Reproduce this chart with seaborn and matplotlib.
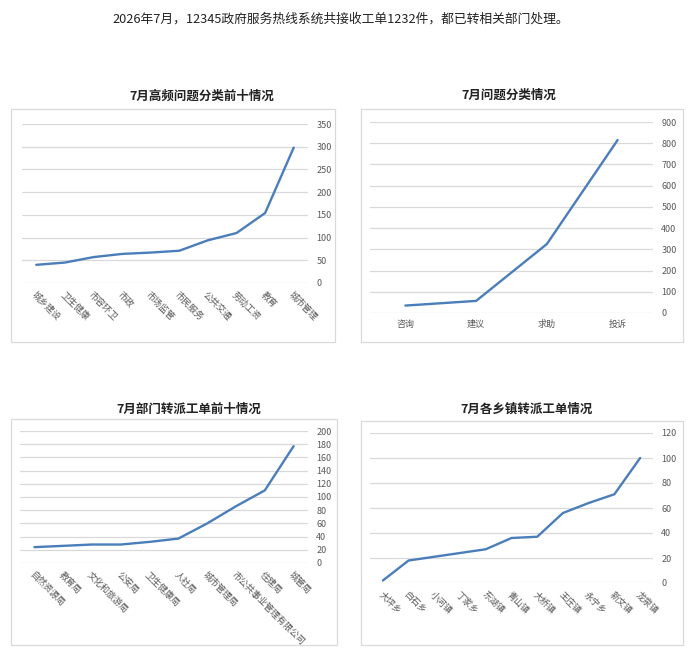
import matplotlib
matplotlib.use("Agg")
import matplotlib.pyplot as plt
from matplotlib.patches import Rectangle
import seaborn as sns
import pandas as pd

sns.set_theme(style="white")
plt.rcParams['font.family'] = ['Noto Sans CJK SC', 'DejaVu Sans']

# ---- data ----
suptitle = "2026年7月，12345政府服务热线系统共接收工单1232件，都已转相关部门处理。"

title_top10 = "7月高频问题分类前十情况"
top10_cats = ["城市管理", "教育", "劳动工资", "公共交通", "市民服务", "市场监管", "市政", "市容环卫", "卫生健康", "城乡建设"]
top10_vals = [298, 154, 110, 94, 71, 67, 64, 57, 45, 40]

title_type = "7月问题分类情况"
type_cats = ["投诉", "求助", "建议", "咨询"]
type_vals = [815, 325, 57, 35]

title_dept = "7月部门转派工单前十情况"
dept_cats = ["城管局", "住建局", "市公共事业管理有限公司", "城市管理局", "人社局", "卫生健康局", "公安局", "文化和旅游局", "教育局", "自然资源局"]
dept_vals = [177, 110, 86, 60, 37, 32, 28, 28, 26, 24]

title_town = "7月各乡镇转派工单情况"
town_cats = ["龙泉镇", "新文镇", "永宁乡", "王庄镇", "大桥镇", "青山镇", "东湖镇", "丁家乡", "小河镇", "白石乡", "大坪乡"]
town_vals = [100, 71, 64, 56, 37, 36, 27, 24, 21, 18, 2]

W, H = 689, 663
fig = plt.figure(figsize=(W / 100, H / 100), dpi=100)
fig.patch.set_facecolor("white")

LINE = "#4A7EBB"
GRID = "#d9d9d9"
TICK = "#595959"


def px_axes(x0, y_top, x1, y_bot):
    return fig.add_axes([x0 / W, 1 - y_bot / H, (x1 - x0) / W, (y_bot - y_top) / H])


def box(x0, y0, x1, y1):
    fig.add_artist(Rectangle((x0 / W, 1 - y1 / H), (x1 - x0) / W, (y1 - y0) / H,
                             transform=fig.transFigure, fill=False,
                             edgecolor=GRID, linewidth=0.9))


def panel(rect, cats, vals, ymax, ystep, rotate):
    ax = px_axes(*rect)
    df = pd.DataFrame({"cat": cats, "val": vals})
    df["pos"] = range(len(cats))
    sns.lineplot(data=df, x="pos", y="val", ax=ax, color=LINE, linewidth=1.7, sort=False)
    n = len(cats)
    ax.set_xlim(n - 0.5, -0.5)
    ax.set_ylim(0, ymax)
    ax.set_yticks(range(0, ymax + 1, ystep))
    ax.yaxis.tick_right()
    ax.set_xticks(list(df["pos"]))
    if rotate:
        ax.set_xticklabels(cats, rotation=-45, ha="left", va="top", rotation_mode="anchor")
    else:
        ax.set_xticklabels(cats)
    ax.tick_params(axis="both", length=0, labelsize=6.5, colors=TICK, pad=5)
    ax.tick_params(axis="y", pad=6)
    ax.grid(axis="y", color=GRID, linewidth=0.9)
    ax.grid(axis="x", visible=False)
    for s in ax.spines.values():
        s.set_visible(False)
    ax.set_xlabel("")
    ax.set_ylabel("")
    ax.set_facecolor("none")
    return ax


fig.text(341 / W, 1 - 19 / H, suptitle, ha="center", va="center", fontsize=9.2, color="#222222")

# top-left
box(11, 109, 335, 342)
fig.text(202 / W, 1 - 96 / H, title_top10, ha="center", va="center", fontsize=9, fontweight="bold", color="#222222")
panel((22, 124, 308, 283), top10_cats, top10_vals, 350, 50, True)

# top-right
box(361, 109, 683, 342)
fig.text(509 / W, 1 - 95 / H, title_type, ha="center", va="center", fontsize=9, fontweight="bold", color="#222222")
panel((370, 122, 653, 313), type_cats, type_vals, 900, 100, False)

# bottom-left
box(11, 419, 337, 645)
fig.text(189 / W, 1 - 409 / H, title_dept, ha="center", va="center", fontsize=9, fontweight="bold", color="#222222")
panel((20, 431, 308, 563), dept_cats, dept_vals, 200, 20, True)

# bottom-right
box(361, 421, 683, 645)
fig.text(527 / W, 1 - 409 / H, title_town, ha="center", va="center", fontsize=9, fontweight="bold", color="#222222")
panel((370, 433, 653, 583), town_cats, town_vals, 120, 20, True)

fig.savefig("out.png", dpi=100, facecolor="white")
